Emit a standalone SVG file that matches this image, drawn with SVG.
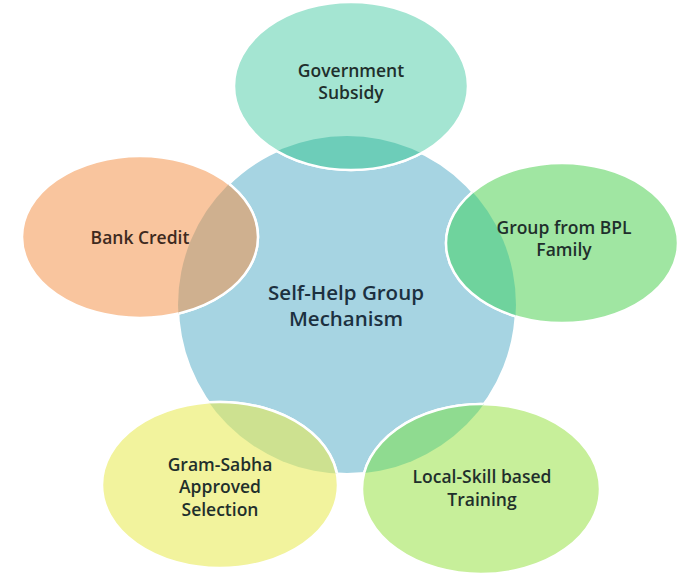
<svg xmlns="http://www.w3.org/2000/svg" width="692" height="578" viewBox="0 0 692 578">
  <style>
    .lbl { font-family: "Open Sans", "Liberation Sans", sans-serif; font-weight: 600; font-size: 17.5px; fill: #1f2f2c; text-anchor: middle; }
    .main { font-family: "Open Sans", "Liberation Sans", sans-serif; font-weight: 600; font-size: 20.5px; fill: #1c3040; text-anchor: middle; }
    .sat { stroke: #ffffff; stroke-width: 2.5; }
  </style>
  <defs>
    <clipPath id="hub">
      <circle cx="347" cy="305" r="169"/>
    </clipPath>
  </defs>
  <rect width="692" height="578" fill="#ffffff"/>
  <g id="center">
    <circle cx="347" cy="305" r="169" fill="#a6d4e2" stroke="#ffffff" stroke-width="2"/>
  </g>
  <g id="connectors"></g>
  <g id="government-subsidy">
    <ellipse class="sat" cx="351" cy="86" rx="117" ry="84" fill="#a4e5d2"/>
    <ellipse class="sat" cx="351" cy="86" rx="117" ry="84" fill="#6dcdb9" clip-path="url(#hub)"/>
    <text class="lbl" x="351" y="77">Government</text>
    <text class="lbl" x="351" y="99">Subsidy</text>
  </g>
  <g id="bank-credit">
    <ellipse class="sat" cx="140" cy="237" rx="118" ry="81" fill="#f9c59e"/>
    <ellipse class="sat" cx="140" cy="237" rx="118" ry="81" fill="#cfb08f" clip-path="url(#hub)"/>
    <text class="lbl" x="140" y="244" style="fill:#3e2a20">Bank Credit</text>
  </g>
  <g id="group-bpl">
    <ellipse class="sat" cx="562" cy="243" rx="116" ry="80" fill="#a0e6a2"/>
    <ellipse class="sat" cx="562" cy="243" rx="116" ry="80" fill="#6fd39d" clip-path="url(#hub)"/>
    <text class="lbl" x="564" y="234">Group from BPL</text>
    <text class="lbl" x="564" y="256">Family</text>
  </g>
  <g id="gram-sabha">
    <ellipse class="sat" cx="220" cy="485" rx="118" ry="83" fill="#f2f39d"/>
    <ellipse class="sat" cx="220" cy="485" rx="118" ry="83" fill="#cde190" clip-path="url(#hub)"/>
    <text class="lbl" x="220" y="471">Gram-Sabha</text>
    <text class="lbl" x="220" y="493">Approved</text>
    <text class="lbl" x="220" y="516">Selection</text>
  </g>
  <g id="local-skill">
    <ellipse class="sat" cx="481" cy="489" rx="119" ry="85" fill="#c7ef9a"/>
    <ellipse class="sat" cx="481" cy="489" rx="119" ry="85" fill="#8fdb90" clip-path="url(#hub)"/>
    <text class="lbl" x="482" y="483">Local-Skill based</text>
    <text class="lbl" x="482" y="506">Training</text>
  </g>
  <g id="center-label">
    <text class="main" x="346" y="300">Self-Help Group</text>
    <text class="main" x="346" y="326">Mechanism</text>
  </g>
</svg>
